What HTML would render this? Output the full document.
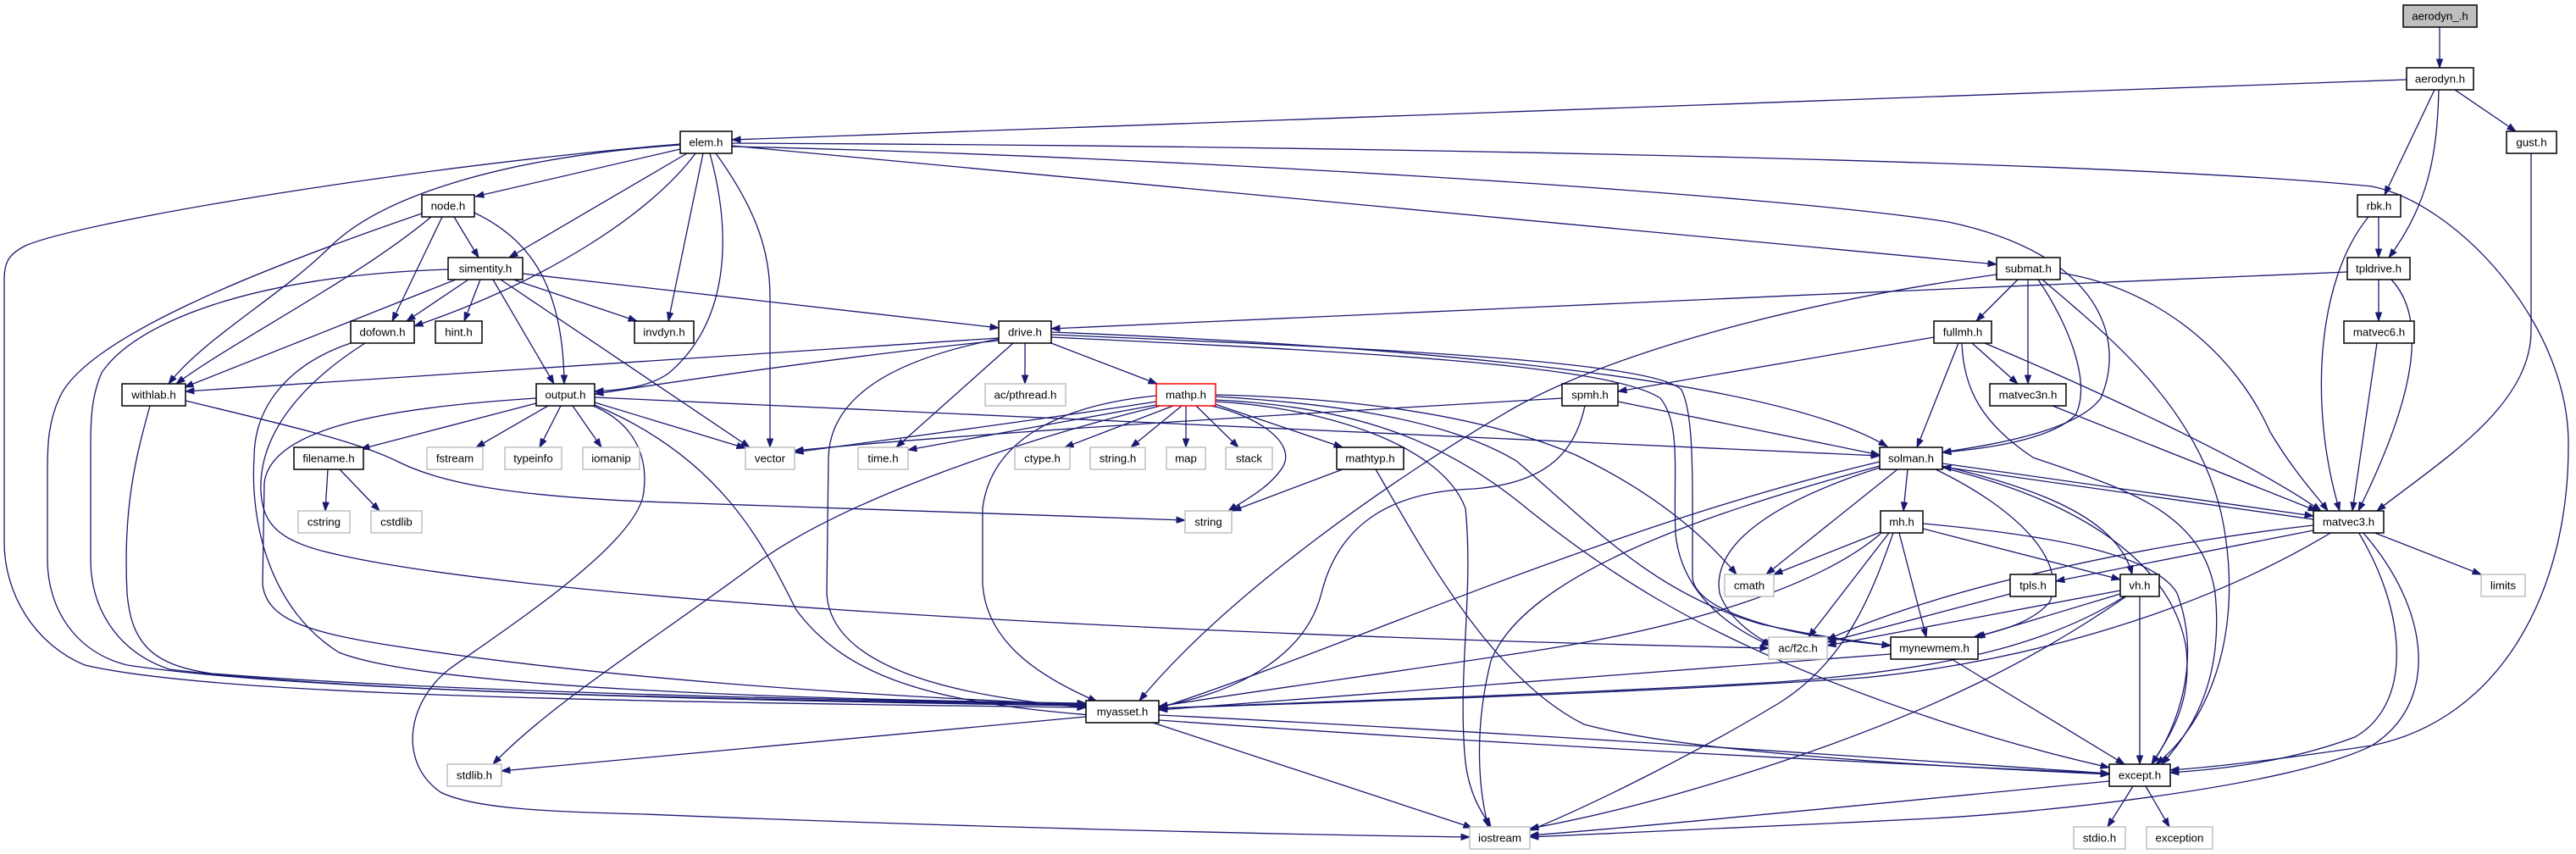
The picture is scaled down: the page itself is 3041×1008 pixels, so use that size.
<!DOCTYPE html>
<html><head><meta charset="utf-8"><style>
html,body{margin:0;padding:0;background:#fff;}
svg{display:block;}
.e{fill:none;stroke:#191970;stroke-width:1.3;marker-end:url(#a);}
.n{fill:#fff;stroke:#000;stroke-width:1.5;}
.g{fill:#fff;stroke:#bfbfbf;stroke-width:1.5;}
.r{fill:#fff;stroke:#ff0000;stroke-width:1.5;}
.root{fill:#bfbfbf;stroke:#000;stroke-width:1.5;}
text{font-family:"Liberation Sans",Arial,sans-serif;font-size:13.3px;fill:#000;text-anchor:middle;}
</style></head><body>
<svg width="3041" height="1008" viewBox="0 0 3041 1008" xmlns="http://www.w3.org/2000/svg">
<defs><marker id="a" markerWidth="11" markerHeight="8" refX="10.5" refY="4" orient="auto" markerUnits="userSpaceOnUse"><path d="M0,0 L11,4 L0,8 z" fill="#191970" stroke="#191970" stroke-width="0.5"/></marker></defs>
<g>
<path class="e" d="M2880,32 L2880,80"/>
<path class="e" d="M2841,94 L864,165"/>
<path class="e" d="M2898,106 L2970,155"/>
<path class="e" d="M2874,106 L2815,230"/>
<path class="e" d="M2879,106 C2877,180 2868,240 2820,304"/>
<path class="e" d="M2808,256 L2808,304"/>
<path class="e" d="M2808,330 L2808,379"/>
<path class="e" d="M2988,181 L2988,390 C2988,480 2880,545 2806,603"/>
<path class="e" d="M2806,405 L2777,603"/>
<path class="e" d="M2823,330 C2870,380 2845,480 2784,603"/>
<path class="e" d="M2796,256 C2735,330 2725,480 2762,603"/>
<path class="e" d="M2771,321 C2300,340 1600,372 1241,388"/>
<path class="e" d="M803,176 L561,232"/>
<path class="e" d="M811,181 L601,304"/>
<path class="e" d="M821,181 C770,250 650,330 489,385"/>
<path class="e" d="M803,171 C600,185 450,230 388,293 C330,350 240,400 199,453"/>
<path class="e" d="M803,170 C500,195 100,260 30,290 C10,300 5,310 5,330 L5,640 C5,700 40,760 100,785 C250,820 700,828 1282,835"/>
<path class="e" d="M830,181 L789,379"/>
<path class="e" d="M838,181 C865,280 860,380 790,440 C770,455 740,460 702,462"/>
<path class="e" d="M845,181 C895,250 909,300 909,350 L909,528"/>
<path class="e" d="M864,172 L2357,312"/>
<path class="e" d="M864,173 C1400,185 2100,230 2300,262 C2480,300 2510,400 2480,470 C2450,510 2350,525 2293,534"/>
<path class="e" d="M864,169 C1600,172 2500,190 2800,220 C2900,240 3030,380 3032,520 C3034,700 2950,850 2800,880 C2700,895 2620,905 2562,909"/>
<path class="e" d="M536,256 L565,304"/>
<path class="e" d="M522,256 L463,379"/>
<path class="e" d="M509,256 C420,330 280,400 208,453"/>
<path class="e" d="M560,251 C620,280 665,330 666,453"/>
<path class="e" d="M498,252 C300,320 100,400 70,470 C56,500 56,530 56,560 L56,660 C56,720 90,770 150,785 C350,815 800,825 1282,832"/>
<path class="e" d="M538,330 L218,457"/>
<path class="e" d="M553,330 L480,379"/>
<path class="e" d="M567,330 L548,379"/>
<path class="e" d="M582,330 L654,453"/>
<path class="e" d="M606,330 L752,379"/>
<path class="e" d="M617,323 L1179,387"/>
<path class="e" d="M591,330 L885,528"/>
<path class="e" d="M529,318 C300,325 160,380 120,440 C107,470 107,500 107,530 L107,660 C107,720 140,770 200,790 C400,815 800,826 1282,833"/>
<path class="e" d="M177,479 C160,540 145,600 150,700 C155,760 180,785 250,795 C500,815 900,825 1282,831"/>
<path class="e" d="M219,473 C330,500 420,520 470,545 C520,570 600,585 760,592 C1000,600 1250,610 1399,614"/>
<path class="e" d="M414,405 C340,430 300,480 300,540 C295,620 320,720 400,770 C500,810 900,825 1282,830"/>
<path class="e" d="M431,405 C360,450 305,510 308,580 C310,620 330,640 400,655 C600,700 1200,745 2088,765"/>
<path class="e" d="M633,476 L426,530"/>
<path class="e" d="M647,479 L562,528"/>
<path class="e" d="M662,479 L637,528"/>
<path class="e" d="M676,479 L710,528"/>
<path class="e" d="M702,475 L880,529"/>
<path class="e" d="M702,469 L2219,538"/>
<path class="e" d="M633,470 C480,480 320,500 312,570 L310,690 C315,730 360,745 450,760 C700,800 1000,820 1282,832"/>
<path class="e" d="M702,478 C850,540 900,640 940,720 C1000,800 1100,830 1300,845 C1700,875 2200,900 2490,913"/>
<path class="e" d="M700,479 C750,500 765,540 760,580 C755,640 600,740 530,790 C480,830 470,900 520,935 C560,955 650,958 760,961 C1100,975 1500,985 1735,988"/>
<path class="e" d="M387,554 L384,603"/>
<path class="e" d="M401,554 L448,603"/>
<path class="e" d="M1179,399 L219,462"/>
<path class="e" d="M1179,402 C1000,420 800,450 702,465"/>
<path class="e" d="M1210,405 L1210,453"/>
<path class="e" d="M1241,405 L1366,453"/>
<path class="e" d="M1196,405 L1058,528"/>
<path class="e" d="M1179,400 C1050,425 980,470 978,540 L976,700 C980,780 1100,820 1282,835"/>
<path class="e" d="M1241,392 C1700,410 2100,450 2228,527"/>
<path class="e" d="M1241,395 C1600,410 1950,425 1985,460 C2000,490 1998,560 1998,680 C1998,720 2100,750 2232,762"/>
<path class="e" d="M1241,398 C1600,415 1900,430 1960,470 C1985,500 1975,560 1978,630 C1985,700 2040,740 2090,762"/>
<path class="e" d="M1365,474 C1200,500 1000,525 938,534"/>
<path class="e" d="M1365,478 L1072,531"/>
<path class="e" d="M1385,479 L1257,528"/>
<path class="e" d="M1395,479 L1335,528"/>
<path class="e" d="M1400,479 L1400,528"/>
<path class="e" d="M1412,479 L1462,528"/>
<path class="e" d="M1430,479 C1480,490 1530,520 1515,550 C1500,575 1470,590 1450,603"/>
<path class="e" d="M1434,477 L1585,528"/>
<path class="e" d="M1366,467 C1250,478 1170,520 1160,600 L1160,690 C1165,760 1230,800 1295,828"/>
<path class="e" d="M1370,479 C1200,520 1000,590 900,660 C780,750 650,830 582,902"/>
<path class="e" d="M1435,474 C1550,480 1700,520 1730,600 C1740,700 1720,800 1730,900 C1735,940 1750,960 1760,976"/>
<path class="e" d="M1435,466 C1600,470 1750,490 1860,537 C1950,580 2010,630 2050,678"/>
<path class="e" d="M1435,468 C1550,475 1700,490 1790,544 C1880,620 1950,700 2080,737 C2150,752 2200,758 2232,762"/>
<path class="e" d="M1435,472 C1600,480 1700,520 1790,590 C1900,680 2000,740 2150,800 C2300,860 2420,890 2490,906"/>
<path class="e" d="M1585,554 L1455,603"/>
<path class="e" d="M1624,554 C1680,650 1760,800 1870,855 C2000,890 2300,905 2490,914"/>
<path class="e" d="M1845,470 C1500,490 1100,515 938,532"/>
<path class="e" d="M1910,474 L2219,537"/>
<path class="e" d="M1871,479 C1860,530 1830,570 1740,577 C1640,580 1580,620 1560,700 C1540,780 1450,820 1368,834"/>
<path class="e" d="M2283,398 L1910,462"/>
<path class="e" d="M2328,405 L2382,453"/>
<path class="e" d="M2312,405 L2263,528"/>
<path class="e" d="M2343,405 C2450,450 2650,540 2740,603"/>
<path class="e" d="M2316,405 C2318,460 2340,500 2400,540 C2500,575 2600,600 2615,700 C2625,800 2590,860 2552,902"/>
<path class="e" d="M2382,330 L2333,379"/>
<path class="e" d="M2394,330 L2394,453"/>
<path class="e" d="M2406,330 C2440,380 2470,450 2450,490 C2420,520 2340,530 2293,534"/>
<path class="e" d="M2411,330 C2480,390 2600,480 2625,620 C2650,760 2600,860 2545,902"/>
<path class="e" d="M2432,322 C2550,340 2640,420 2680,510 C2710,560 2735,585 2748,603"/>
<path class="e" d="M2357,324 C2100,360 1900,420 1790,480 C1650,560 1450,700 1345,827"/>
<path class="e" d="M2423,479 L2735,603"/>
<path class="e" d="M2293,547 L2731,609"/>
<path class="e" d="M2731,613 L2293,551"/>
<path class="e" d="M2252,554 L2247,603"/>
<path class="e" d="M2240,554 L2085,678"/>
<path class="e" d="M2219,552 C2100,590 2020,640 2030,700 C2040,730 2070,750 2092,762"/>
<path class="e" d="M2285,554 C2380,600 2440,660 2420,710 C2400,735 2360,745 2330,752"/>
<path class="e" d="M2293,550 C2400,575 2500,610 2517,678"/>
<path class="e" d="M2293,552 C2450,590 2560,660 2580,760 C2590,830 2560,870 2540,902"/>
<path class="e" d="M2219,545 C1900,620 1600,760 1368,836"/>
<path class="e" d="M2219,550 C2000,610 1800,680 1760,780 C1740,860 1745,930 1757,976"/>
<path class="e" d="M2220,628 L2094,678"/>
<path class="e" d="M2230,629 L2135,752"/>
<path class="e" d="M2242,629 L2274,752"/>
<path class="e" d="M2220,630 C2150,690 2000,740 1800,770 C1600,800 1450,820 1368,834"/>
<path class="e" d="M2235,629 C2210,700 2180,780 2100,830 C2000,890 1880,950 1806,980"/>
<path class="e" d="M2270,624 L2503,684"/>
<path class="e" d="M2270,618 C2400,630 2540,650 2570,700 C2600,780 2570,860 2540,902"/>
<path class="e" d="M2801,628 L2929,678"/>
<path class="e" d="M2731,626 L2427,686"/>
<path class="e" d="M2731,620 C2550,640 2300,690 2157,755"/>
<path class="e" d="M2753,628 C2600,720 2400,780 2200,800 C1900,820 1600,828 1368,836"/>
<path class="e" d="M2784,628 C2840,720 2850,830 2780,870 C2700,900 2620,908 2562,912"/>
<path class="e" d="M2789,628 C2870,720 2880,830 2800,880 C2700,930 2400,960 2280,966 C2100,975 1900,985 1806,988"/>
<path class="e" d="M2373,701 L2157,758"/>
<path class="e" d="M2503,697 L2157,762"/>
<path class="e" d="M2503,701 L2333,752"/>
<path class="e" d="M2508,704 C2420,760 2300,790 2100,805 C1800,822 1500,830 1368,836"/>
<path class="e" d="M2526,704 L2526,902"/>
<path class="e" d="M2510,704 C2400,780 2280,840 2100,900 C1950,950 1850,970 1806,978"/>
<path class="e" d="M2232,772 L1368,838"/>
<path class="e" d="M2304,778 L2508,902"/>
<path class="e" d="M1282,846 L592,910"/>
<path class="e" d="M1368,844 C1800,865 2300,900 2490,913"/>
<path class="e" d="M1361,853 L1738,977"/>
<path class="e" d="M2518,928 L2488,976"/>
<path class="e" d="M2533,928 L2561,976"/>
<path class="e" d="M2490,922 C2200,950 1950,975 1806,986"/>
</g>
<g>
<rect class="root" x="2837" y="6" width="87" height="26"/><text x="2880.5" y="23.5">aerodyn_.h</text>
<rect class="n" x="2841" y="80" width="79" height="26"/><text x="2880.5" y="97.5">aerodyn.h</text>
<rect class="n" x="803" y="155" width="61" height="26"/><text x="833.5" y="172.5">elem.h</text>
<rect class="n" x="2959" y="155" width="59" height="26"/><text x="2988.5" y="172.5">gust.h</text>
<rect class="n" x="498" y="230" width="62" height="26"/><text x="529" y="247.5">node.h</text>
<rect class="n" x="2783" y="230" width="51" height="26"/><text x="2808.5" y="247.5">rbk.h</text>
<rect class="n" x="529" y="304" width="88" height="26"/><text x="573" y="321.5">simentity.h</text>
<rect class="n" x="2357" y="304" width="75" height="26"/><text x="2394.5" y="321.5">submat.h</text>
<rect class="n" x="2771" y="304" width="74" height="26"/><text x="2808" y="321.5">tpldrive.h</text>
<rect class="n" x="414" y="379" width="75" height="26"/><text x="451.5" y="396.5">dofown.h</text>
<rect class="n" x="514" y="379" width="55" height="26"/><text x="541.5" y="396.5">hint.h</text>
<rect class="n" x="749" y="379" width="70" height="26"/><text x="784" y="396.5">invdyn.h</text>
<rect class="n" x="1179" y="379" width="62" height="26"/><text x="1210" y="396.5">drive.h</text>
<rect class="n" x="2283" y="379" width="68" height="26"/><text x="2317" y="396.5">fullmh.h</text>
<rect class="n" x="2767" y="379" width="83" height="26"/><text x="2808.5" y="396.5">matvec6.h</text>
<rect class="n" x="144" y="453" width="75" height="26"/><text x="181.5" y="470.5">withlab.h</text>
<rect class="n" x="633" y="453" width="69" height="26"/><text x="667.5" y="470.5">output.h</text>
<rect class="g" x="1163" y="453" width="95" height="26"/><text x="1210.5" y="470.5">ac/pthread.h</text>
<rect class="r" x="1365" y="453" width="70" height="26"/><text x="1400" y="470.5">mathp.h</text>
<rect class="n" x="1844" y="453" width="66" height="26"/><text x="1877" y="470.5">spmh.h</text>
<rect class="n" x="2349" y="453" width="90" height="26"/><text x="2394" y="470.5">matvec3n.h</text>
<rect class="n" x="347" y="528" width="82" height="26"/><text x="388" y="545.5">filename.h</text>
<rect class="g" x="504" y="528" width="66" height="26"/><text x="537" y="545.5">fstream</text>
<rect class="g" x="596" y="528" width="67" height="26"/><text x="629.5" y="545.5">typeinfo</text>
<rect class="g" x="688" y="528" width="67" height="26"/><text x="721.5" y="545.5">iomanip</text>
<rect class="g" x="880" y="528" width="58" height="26"/><text x="909" y="545.5">vector</text>
<rect class="g" x="1013" y="528" width="59" height="26"/><text x="1042.5" y="545.5">time.h</text>
<rect class="g" x="1198" y="528" width="65" height="26"/><text x="1230.5" y="545.5">ctype.h</text>
<rect class="g" x="1287" y="528" width="65" height="26"/><text x="1319.5" y="545.5">string.h</text>
<rect class="g" x="1377" y="528" width="46" height="26"/><text x="1400" y="545.5">map</text>
<rect class="g" x="1447" y="528" width="55" height="26"/><text x="1474.5" y="545.5">stack</text>
<rect class="n" x="1578" y="528" width="79" height="26"/><text x="1617.5" y="545.5">mathtyp.h</text>
<rect class="n" x="2219" y="528" width="74" height="26"/><text x="2256" y="545.5">solman.h</text>
<rect class="g" x="352" y="603" width="61" height="26"/><text x="382.5" y="620.5">cstring</text>
<rect class="g" x="438" y="603" width="60" height="26"/><text x="468" y="620.5">cstdlib</text>
<rect class="g" x="1399" y="603" width="55" height="26"/><text x="1426.5" y="620.5">string</text>
<rect class="n" x="2220" y="603" width="50" height="26"/><text x="2245" y="620.5">mh.h</text>
<rect class="n" x="2731" y="603" width="83" height="26"/><text x="2772.5" y="620.5">matvec3.h</text>
<rect class="g" x="2036" y="678" width="58" height="26"/><text x="2065" y="695.5">cmath</text>
<rect class="n" x="2373" y="678" width="54" height="26"/><text x="2400" y="695.5">tpls.h</text>
<rect class="n" x="2503" y="678" width="46" height="26"/><text x="2526" y="695.5">vh.h</text>
<rect class="g" x="2929" y="678" width="52" height="26"/><text x="2955" y="695.5">limits</text>
<rect class="g" x="2088" y="752" width="69" height="26"/><text x="2122.5" y="769.5">ac/f2c.h</text>
<rect class="n" x="2232" y="752" width="103" height="26"/><text x="2283.5" y="769.5">mynewmem.h</text>
<rect class="n" x="1282" y="827" width="86" height="26"/><text x="1325" y="844.5">myasset.h</text>
<rect class="g" x="528" y="902" width="64" height="26"/><text x="560" y="919.5">stdlib.h</text>
<rect class="n" x="2490" y="902" width="72" height="26"/><text x="2526" y="919.5">except.h</text>
<rect class="g" x="1735" y="976" width="71" height="26"/><text x="1770.5" y="993.5">iostream</text>
<rect class="g" x="2448" y="976" width="61" height="26"/><text x="2478.5" y="993.5">stdio.h</text>
<rect class="g" x="2534" y="976" width="78" height="26"/><text x="2573" y="993.5">exception</text>
</g>
</svg>
</body></html>
